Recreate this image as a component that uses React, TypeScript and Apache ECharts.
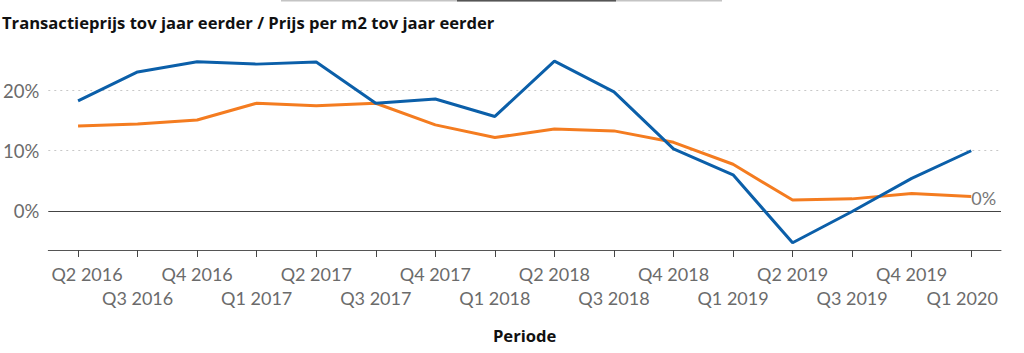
import React, { useEffect, useRef } from "react";
import * as echarts from "echarts";

const categories = [
  "Q2 2016", "Q3 2016", "Q4 2016", "Q1 2017", "Q2 2017", "Q3 2017", "Q4 2017", "Q1 2018",
  "Q2 2018", "Q3 2018", "Q4 2018", "Q1 2019", "Q2 2019", "Q3 2019", "Q4 2019", "Q1 2020",
];
const transactieprijs = [18.3, 23.1, 24.8, 24.4, 24.75, 17.9, 18.6, 15.7, 24.9, 19.8, 10.3, 6.0, -5.3, -0.1, 5.4, 10.0];
const prijsPerM2 = [14.1, 14.45, 15.1, 17.9, 17.5, 17.9, 14.3, 12.2, 13.6, 13.3, 11.4, 7.75, 1.8, 2.0, 2.9, 2.4];
const yTickValues = [0, 10, 20];
const title = "Transactieprijs tov jaar eerder / Prijs per m2 tov jaar eerder";
const xName = "Periode";
const endLabelText = "0%";

const FONT = "Lato";
const BOLD_FONT = "Open Sans";

export default function App() {
  const ref = useRef<HTMLDivElement>(null);
  useEffect(() => {
    document.body.style.margin = "0";
    const chart = echarts.init(ref.current!, null, { renderer: "svg" });
    const last = categories.length - 1;
    const lbl = { fontSize: 18, lineHeight: 24, color: "#6b6b6b", fontFamily: FONT };
    chart.setOption({
      animation: false,
      backgroundColor: "#ffffff",
      textStyle: { fontFamily: FONT },
      title: {
        text: title,
        left: 2,
        top: 14,
        padding: 0,
        textStyle: { fontFamily: BOLD_FONT, fontSize: 16.6, fontWeight: "bold", color: "#111" },
      },
      graphic: [
        { type: "rect", left: 281, top: 0, shape: { width: 441, height: 1.5 }, style: { fill: "#c4c4c4" } },
        { type: "rect", left: 457, top: 0, shape: { width: 159, height: 1.5 }, style: { fill: "#555555" } },
      ],
      grid: { left: 43, right: 23, top: 54.5, bottom: 103, containLabel: false },
      xAxis: {
        type: "category",
        data: categories,
        boundaryGap: true,
        name: xName,
        nameLocation: "middle",
        nameGap: 77,
        nameTextStyle: { fontFamily: BOLD_FONT, fontSize: 16.6, fontWeight: "bold", color: "#111" },
        axisLine: { show: true, onZero: false, lineStyle: { color: "#555", width: 1 } },
        axisTick: { show: true, alignWithLabel: true, interval: 0, inside: false, length: 7, lineStyle: { color: "#444", width: 1 } },
        axisLabel: {
          interval: 0,
          margin: 12,
          ...lbl,
          formatter: (v: string, i: number) => {
            const odd = i % 2 === 1;
            let s = v;
            if (i === 0) s = `{f|${v}}`;
            else if (i === last) s = `{l|${v}}`;
            return odd ? `\n${s}` : s;
          },
          rich: {
            f: { padding: [0, 0, 0, 18], ...lbl },
            l: { padding: [0, 18, 0, 0], ...lbl },
          },
        },
        splitLine: { show: false },
      },
      yAxis: {
        type: "value",
        min: -6.5,
        max: 26,
        axisLine: { show: false },
        axisTick: { show: false },
        splitLine: { show: false },
        axisLabel: {
          customValues: yTickValues,
          margin: 9,
          color: "#6b6b6b",
          fontSize: 18.5,
          fontFamily: FONT,
          formatter: (v: number) => `${v}%`,
        },
      },
      series: [
        {
          name: "Transactieprijs",
          type: "line",
          data: transactieprijs,
          symbol: "none",
          lineStyle: { color: "#0b5fa9", width: 3 },
          z: 3,
          markLine: {
            silent: true,
            symbol: "none",
            label: { show: false },
            data: yTickValues.map((v) => ({
              yAxis: v,
              lineStyle: v === 0
                ? { color: "#444", width: 1, type: "solid" }
                : { color: "#c8c8c8", width: 1, type: [2, 4] },
            })),
            z: 1,
          },
        },
        {
          name: "Prijs per m2",
          type: "line",
          data: prijsPerM2,
          symbol: "none",
          lineStyle: { color: "#f47c20", width: 3 },
          z: 2,
          endLabel: {
            show: true,
            formatter: () => endLabelText,
            distance: 0,
            offset: [0, 2],
            color: "#777",
            fontSize: 18,
            fontFamily: FONT,
          },
        },
      ],
    });
    return () => chart.dispose();
  }, []);
  return <div ref={ref} style={{ position: "fixed", left: 0, top: 0, width: 1024, height: 353 }} />;
}
